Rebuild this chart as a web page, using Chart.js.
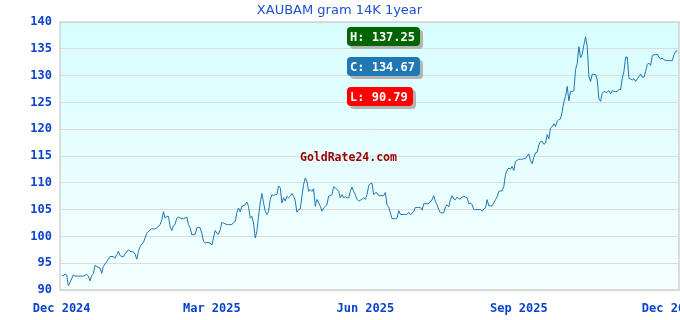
<!DOCTYPE html>
<html>
<head>
<meta charset="utf-8">
<script src="https://cdn.jsdelivr.net/npm/chart.js@4"></script>
<style>
  html, body { margin: 0; padding: 0; background: #fff; }
  #wrap { width: 680px; height: 320px; }
</style>
</head>
<body>
<div id="wrap"><canvas id="chart" width="680" height="320"></canvas></div>
<script>
// Datos del gráfico (precio por gramo 14K, un valor por día; null = día no leído)
const titleText = 'XAUBAM gram 14K 1year';
const siteText = 'GoldRate24.com';
const tickDays = [0, 90, 182, 274, 365];
const tickLabels = ['Dec 2024', 'Mar 2025', 'Jun 2025', 'Sep 2025', 'Dec 2025'];
const prices = [
  92.8, 92.6, 93.0, 92.8, 90.79, 91.4, null, 92.8, 92.6, null,
  92.6, null, 92.6, 92.6, null, 92.9, 92.6, 91.7, 92.7, 93.1,
  94.6, null, 94.2, 94.1, 93.1, 94.4, null, 95.3, 95.75, 96.25,
  null, 96.25, 95.9, 96.6, 97.2, 96.4, null, 96.2, 96.75, null,
  97.5, 97.2, null, 97.1, 96.7, 95.75, 97.2, 98.1, null, 98.9,
  99.7, 100.6, null, 101.25, 101.4, null, 101.4, 101.6, null, 102.2,
  103.1, 104.6, 103.4, 103.75, 103.75, 101.9, 101.1, 101.9, 102.3, 103.4,
  103.6, null, 103.3, 103.3, null, 103.6, 102.2, 101.6, 100.3, null,
  100.4, 101.6, 101.7, 101.6, 100.6, 99.1, 98.75, 98.9, null, 98.75,
  98.4, 99.7, 101.1, 100.6, 100.4, 101.25, 102.6, 102.5, null, 102.2,
  102.2, null, 102.2, 102.6, 102.8, 104.4, 105.3, 104.6, 105.6, null,
  105.9, 106.4, 105.6, 103.4, 103.75, 102.5, 99.7, 100.9, 103.75, 106.25,
  108.0, 106.25, 104.7, 104.1, 104.7, 106.9, 107.8, 107.6, 107.8, 107.8,
  109.4, 109.1, 106.25, 107.2, 106.6, 107.5, 107.2, 107.5, 108.0, 107.5,
  106.6, 104.5, 105.0, 105.1, 107.5, 109.7, 110.9, 110.3, 108.4, 108.75,
  108.4, 108.9, 105.6, 106.9, 106.25, 105.6, 104.7, 105.3, 105.6, 105.9,
  107.5, 107.6, 107.8, 109.25, 109.1, 108.75, 108.4, 107.2, 107.8, 107.2,
  107.4, 107.2, 107.2, 108.4, 109.2, 108.4, 107.8, 106.9, 106.6, 106.75,
  106.9, 107.2, 106.9, 107.8, 109.4, 109.9, 109.9, 107.8, 108.1, 108.1,
  107.6, null, 107.6, 107.6, 108.2, 105.8, 105.5, 104.4, 103.3, null,
  103.3, 103.4, 104.8, 104.1, 104.1, null, 104.1, 104.1, 104.5, 104.1,
  104.25, 104.7, 105.4, null, 105.4, 105.4, 104.9, 106.1, null, 106.1,
  106.1, null, 106.85, 107.6, 106.5, 105.9, 105.0, 104.4, 104.4, 104.4,
  105.5, 105.9, 105.5, 106.85, 107.6, 107.0, 106.85, 107.35, 107.0, 107.0,
  107.35, 107.5, 107.35, 107.2, 106.1, 106.25, 105.9, 105.0, 105.0, 105.0,
  null, 105.0, 104.7, 105.1, 105.3, 106.85, 105.7, 105.7, 105.7, 106.25,
  106.85, 107.35, 108.4, 108.5, 108.5, 109.3, 111.5, 112.4, 112.75, 112.55,
  113.05, 112.3, 114.0, 114.2, 114.4, 114.4, 114.4, 114.5, 114.5, 115.0,
  115.4, 114.1, 113.6, 114.75, 115.6, 115.7, 117.1, 117.7, 117.7, 117.2,
  117.4, 119.0, 118.2, 120.2, 120.5, 121.0, 120.5, 121.5, 121.8, 121.9,
  123.3, 125.1, 126.1, 128.0, 125.3, 127.05, 127.05, 127.2, 131.1, 132.3,
  135.4, 133.3, 134.0, 135.75, 137.25, 135.4, 129.8, 128.9, 130.3, 130.2,
  130.2, 129.2, 125.7, 125.2, 126.7, 127.05, 126.9, 126.9, 127.2, 126.6,
  127.2, 127.05, 127.05, 127.05, 127.4, 127.4, 129.5, 130.8, 133.45, 133.45,
  129.5, 129.35, 129.2, 129.4, 128.9, 129.4, 129.8, 130.3, 129.7, 129.7,
  130.8, 132.1, 132.3, 131.9, 133.75, 133.9, 133.9, 134.0, 133.4, 133.1,
  133.3, 132.95, 132.8, 132.8, 132.8, 132.8, 132.8, 133.9, 134.5, 134.67
];

const known = prices.filter(v => v !== null);
const hiVal = Math.max(...known);
const loVal = Math.min(...known);
const closeVal = known[known.length - 1];

const tickColor = '#0b43cc';
const monoFont = { family: 'DejaVu Sans Mono', size: 12, weight: 'bold' };

// Fondo degradado y marco del área
const bgPlugin = {
  id: 'bg',
  beforeDraw(chart) {
    const { ctx, chartArea: a } = chart;
    ctx.save();
    ctx.fillStyle = '#ffffff';
    ctx.fillRect(0, 0, chart.width, chart.height);
    const g = ctx.createLinearGradient(0, a.top, 0, a.bottom);
    g.addColorStop(0, 'rgb(216,253,253)');
    g.addColorStop(1, 'rgb(245,255,255)');
    ctx.fillStyle = g;
    ctx.fillRect(a.left, a.top, a.right - a.left, a.bottom - a.top);
    ctx.restore();
  },
  beforeDatasetsDraw(chart) {
    const { ctx, chartArea: a } = chart;
    ctx.save();
    ctx.strokeStyle = '#d2d2d2';
    ctx.lineWidth = 1.5;
    ctx.strokeRect(a.left, a.top, a.right - a.left, a.bottom - a.top);
    ctx.restore();
  }
};

// Etiquetas H / C / L y marca del sitio
function label(ctx, x, y, w, h, fill, text) {
  ctx.fillStyle = '#b4b4b4';
  ctx.beginPath();
  ctx.roundRect(x + 3, y + 3, w, h, 4);
  ctx.fill();
  ctx.fillStyle = fill;
  ctx.beginPath();
  ctx.roundRect(x, y, w, h, 4);
  ctx.fill();
  ctx.fillStyle = '#ffffff';
  ctx.font = 'bold 12px "DejaVu Sans Mono"';
  ctx.textBaseline = 'middle';
  ctx.textAlign = 'left';
  ctx.fillText(text, x + 3, y + h / 2 + 1);
}

const notesPlugin = {
  id: 'notes',
  afterDraw(chart) {
    const ctx = chart.ctx;
    ctx.save();
    label(ctx, 347, 27, 73, 19, '#006400', 'H: ' + hiVal.toFixed(2));
    label(ctx, 347, 57, 73, 19, '#1f77b4', 'C: ' + closeVal.toFixed(2));
    label(ctx, 347, 87, 66, 19, '#ff0000', 'L: ' + loVal.toFixed(2));
    ctx.fillStyle = '#990000';
    ctx.font = 'bold 11.5px "DejaVu Sans Mono"';
    ctx.textBaseline = 'middle';
    ctx.fillText(siteText, 300, 158);
    ctx.restore();
  }
};

const ctx = document.getElementById('chart').getContext('2d');
new Chart(ctx, {
  type: 'line',
  data: {
    datasets: [{
      data: prices.map((v, i) => ({ x: i, y: v })),
      borderColor: '#1f77b4',
      borderWidth: 1,
      pointRadius: 0,
      tension: 0,
      spanGaps: true,
      fill: false
    }]
  },
  options: {
    responsive: false,
    animation: false,
    devicePixelRatio: 1,
    layout: { padding: { left: 0, right: 1, top: 0, bottom: 0 } },
    plugins: {
      legend: { display: false },
      tooltip: { enabled: false },
      title: {
        display: true,
        text: titleText,
        color: '#1d50d2',
        font: { family: 'DejaVu Sans', size: 13, weight: 'normal' },
        padding: { top: 3, bottom: 3.4 }
      }
    },
    scales: {
      x: {
        type: 'linear',
        min: -1,
        max: 370,
        grid: { display: false },
        border: { display: false },
        afterBuildTicks: s => { s.ticks = tickDays.map(v => ({ value: v })); },
        afterFit: s => { s.paddingLeft = 0; s.paddingRight = 0; s.height = 30; },
        ticks: {
          autoSkip: false,
          maxRotation: 0,
          padding: 4,
          color: tickColor,
          font: monoFont,
          callback: (v, i) => tickLabels[i]
        }
      },
      y: {
        min: 90,
        max: 140,
        grid: { color: '#dcdcdc', drawTicks: false },
        border: { display: false },
        afterFit: s => { s.width = 60; },
        ticks: { stepSize: 5, padding: 8, color: tickColor, font: monoFont }
      }
    }
  },
  plugins: [bgPlugin, notesPlugin]
});
</script>
</body>
</html>
